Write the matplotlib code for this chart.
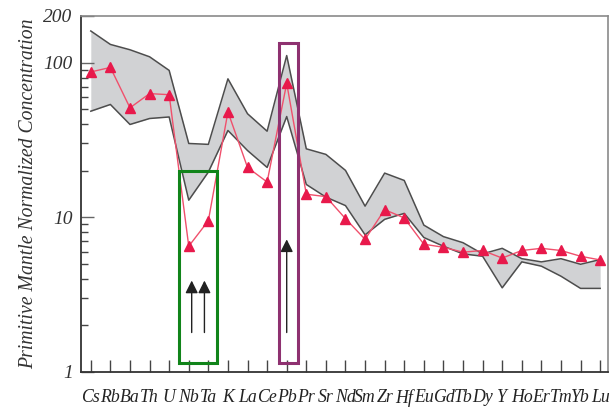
import numpy as np
import matplotlib.pyplot as plt
from matplotlib.patches import Rectangle
from matplotlib.ticker import LogLocator, FixedLocator, NullFormatter

# element order on the spider diagram
elements = ["Cs", "Rb", "Ba", "Th", "U", "Nb", "Ta", "K", "La", "Ce", "Pb",
            "Pr", "Sr", "Nd", "Sm", "Zr", "Hf", "Eu", "Gd", "Tb", "Dy", "Y",
            "Ho", "Er", "Tm", "Yb", "Lu"]

# sample, normalized to primitive mantle
sample = [87, 93, 51, 63, 62, 6.5, 9.5, 48, 21, 16.9, 73.5,
          14.1, 13.6, 9.8, 7.2, 11.2, 9.9, 6.7, 6.4, 5.95, 6.1, 5.45,
          6.1, 6.3, 6.1, 5.6, 5.3]

# reference field (upper / lower envelope)
field_upper = [160, 131, 121, 109, 89, 30, 29.6, 78.5, 46.7, 36, 111,
               27.7, 25.5, 20.1, 11.8, 19.3, 17.3, 8.9, 7.5, 6.85, 5.8, 6.3,
               5.4, 5.15, 5.4, 4.97, 5.33]
field_lower = [48.5, 53.6, 39.8, 43.5, 44.5, 12.9, 19.6, 36.4, 27, 21, 44.8,
               16.3, 13.5, 11.9, 7.7, 9.7, 10.6, 7.4, 6.5, 5.8, 5.6, 3.5,
               5.15, 4.83, 4.16, 3.47, 3.47]

# highlight boxes: (x0, x1, y0, y1)
nb_ta_box = (4.5, 6.45, 1.14, 20)
pb_box = (9.6, 10.57, 1.14, 133)

# arrows: (x, y_start, y_end)
arrows = [(5.15, 1.8, 3.9), (5.8, 1.8, 3.9), (10.0, 1.8, 7.2)]

x = np.arange(len(elements))

fig = plt.figure(figsize=(6.16, 4.07), dpi=100)
ax = fig.add_axes([0.1315, 0.086, 0.8555, 0.8747])

ax.fill_between(x, field_lower, field_upper, color="#d1d2d4", lw=0, zorder=1)
ax.plot(x, field_upper, color="#4d4d4d", lw=1.1, zorder=2)
ax.plot(x, field_lower, color="#4d4d4d", lw=1.1, zorder=2)

ax.plot(x, sample, color="#f0506c", lw=1.0, zorder=4)
ax.plot(x, sample, ls="none", marker="^", ms=7.5, color="#e8194b",
        mec="#e8194b", zorder=5)

for (x0, x1, y0, y1), col in [(nb_ta_box, "#11841a"), (pb_box, "#8e3170")]:
    ax.add_patch(Rectangle((x0, y0), x1 - x0, y1 - y0, fill=False,
                           ec=col, lw=2.2, zorder=6))

for ax_x, y0, y1 in arrows:
    ax.annotate("", xy=(ax_x, y1), xytext=(ax_x, y0),
                arrowprops=dict(arrowstyle="-|>,head_length=0.42,head_width=0.21",
                                mutation_scale=18, color="#222222", lw=1.0,
                                shrinkA=0, shrinkB=0),
                zorder=7)

ax.set_yscale("log")
ax.set_ylim(1, 200)
ax.set_xlim(-0.5, 26.4)

ax.yaxis.set_major_locator(FixedLocator([1, 10, 100, 200]))
ax.set_yticklabels(["1", "10", "100", "200"])
ax.yaxis.set_minor_locator(LogLocator(base=10, subs=np.arange(2, 10)))
ax.yaxis.set_minor_formatter(NullFormatter())

ax.set_xticks(x)
ax.set_xticklabels(elements)

font = dict(family="Liberation Serif", style="italic")
for lab in ax.get_xticklabels():
    lab.set_fontproperties(dict(font, size=12.8))
    lab.set_color("#222222")
for lab in ax.get_yticklabels():
    lab.set_fontproperties(dict(font, size=14))
    lab.set_color("#333333")

ax.tick_params(axis="x", direction="in", length=9, width=1.0,
               color="#444444", pad=12)
ax.tick_params(axis="y", which="major", direction="in", length=9,
               width=1.0, color="#666666", pad=6)
ax.tick_params(axis="y", which="minor", direction="in", length=5,
               width=1.0, color="#444444")

ax.set_ylabel("Primitive Mantle Normalized Concentration", fontsize=14.2,
              color="#333333", labelpad=4, **font)

for side in ("left", "bottom"):
    ax.spines[side].set_color("#333333")
    ax.spines[side].set_linewidth(1.3)
for side in ("top", "right"):
    ax.spines[side].set_color("#8a8a8a")
    ax.spines[side].set_linewidth(1.2)

fig.savefig("out.png", dpi=100)
